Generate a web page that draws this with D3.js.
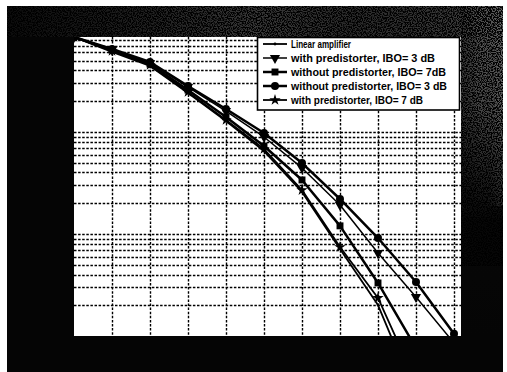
<!DOCTYPE html>
<html><head><meta charset="utf-8">
<script src="https://cdn.jsdelivr.net/npm/d3@7"></script>
<style>html,body{margin:0;padding:0;background:#fff;overflow:hidden}</style>
</head><body><svg id="c" width="507" height="372"></svg>
<script>
// ---------- data ----------
const xValues = [0, 1, 2, 3, 4, 5, 6, 7, 8, 9, 10];
const xTicks = [0, 1, 2, 3, 4, 5, 6, 7, 8, 9, 10];
const yDomain = [1e-4, 0.085];
const seriesNames = [
  "Linear amplifier",
  "with predistorter, IBO= 3 dB",
  "without predistorter, IBO= 7dB",
  "without predistorter, IBO= 3 dB",
  "with predistorter, IBO= 7 dB"
];
const linearAmp   = [0.085, 0.0606, 0.0442, 0.0240, 0.01278, 0.00649, 0.00258, 0.000712, 0.000201, 0.0000258];
const withPre3    = [0.085, 0.0634, 0.0473, 0.0275, 0.0160, 0.00891, 0.00443, 0.00192, 0.00065, 0.000241, 0.0000854];
const withoutPre7 = [0.085, 0.0634, 0.0462, 0.0257, 0.0140, 0.00727, 0.00338, 0.00120, 0.000331, 0.0000763];
const withoutPre3 = [0.085, 0.0649, 0.0483, 0.0281, 0.01675, 0.00975, 0.00495, 0.00220, 0.000912, 0.000338, 0.000105];
const withPre7    = [0.085, 0.0620, 0.0452, 0.0246, 0.01306, 0.00679, 0.00269, 0.000745, 0.000236, 0.0000354];

// ---------- styles ----------
const seriesStyle = [
  {values: linearAmp,   symbol: d3.symbolCircle,   size: 6,  rot: 0,   width: 1.8},
  {values: withPre3,    symbol: d3.symbolTriangle, size: 45, rot: 180, width: 1.5},
  {values: withoutPre7, symbol: d3.symbolSquare,   size: 48, rot: 0,   width: 2.5},
  {values: withoutPre3, symbol: d3.symbolCircle,   size: 50, rot: 0,   width: 2.5},
  {values: withPre7,    symbol: d3.symbolStar,     size: 40, rot: 0,   width: 1.8}
];
const legendTextWidths = [60, 144, 155, 156, 132];

const plot = {left: 74, right: 461, top: 37, bottom: 336, xEnd: 454};

const svg = d3.select("#c");
const defs = svg.append("defs");

// background gradients / noise
const tg = defs.append("linearGradient").attr("id", "topG").attr("x1", 0).attr("x2", 1).attr("y1", 0).attr("y2", 0);
[["0", "#0c0c0c"], ["0.3", "#222"], ["0.5", "#383838"], ["0.7", "#2a2a2a"], ["0.9", "#383838"], ["1", "#555"]]
  .forEach(([o, c]) => tg.append("stop").attr("offset", o).attr("stop-color", c));
const rg = defs.append("linearGradient").attr("id", "rightG").attr("x1", 0).attr("x2", 0).attr("y1", 0).attr("y2", 1);
[["0", "#555"], ["0.3", "#4a4a4a"], ["0.5", "#222"], ["0.65", "#070707"], ["1", "#050505"]]
  .forEach(([o, c]) => rg.append("stop").attr("offset", o).attr("stop-color", c));
const rg2 = defs.append("linearGradient").attr("id", "rightG2").attr("x1", 0).attr("x2", 1).attr("y1", 0).attr("y2", 0);
[["0", "#000", 0.4], ["0.5", "#000", 0.0], ["1", "#fff", 0.12]]
  .forEach(([o, c, a]) => rg2.append("stop").attr("offset", o).attr("stop-color", c).attr("stop-opacity", a));

const nf = defs.append("filter").attr("id", "nz").attr("x", 0).attr("y", 0).attr("width", "100%").attr("height", "100%")
  .attr("color-interpolation-filters", "sRGB");
nf.append("feTurbulence").attr("type", "fractalNoise").attr("baseFrequency", 0.8).attr("numOctaves", 1).attr("seed", 7);
nf.append("feColorMatrix").attr("type", "matrix")
  .attr("values", "0 0 0 0 0  0 0 0 0 0  0 0 0 0 0  7 0 0 0 -3.0");

defs.append("clipPath").attr("id", "plotClip").append("rect")
  .attr("x", plot.left).attr("y", plot.top)
  .attr("width", plot.right - plot.left).attr("height", plot.bottom - plot.top);

svg.append("rect").attr("x", 7).attr("y", 6).attr("width", 496).attr("height", 366).attr("fill", "#050505");
svg.append("rect").attr("x", 7).attr("y", 6).attr("width", 496).attr("height", 31).attr("fill", "url(#topG)");
svg.append("rect").attr("x", 461).attr("y", 6).attr("width", 42).attr("height", 330).attr("fill", "url(#rightG)");
svg.append("rect").attr("x", 461).attr("y", 6).attr("width", 42).attr("height", 200).attr("fill", "url(#rightG2)");
svg.append("rect").attr("x", 7).attr("y", 6).attr("width", 496).attr("height", 31).attr("filter", "url(#nz)");
svg.append("rect").attr("x", 461).attr("y", 6).attr("width", 42).attr("height", 260).attr("filter", "url(#nz)");

// plot area
svg.append("rect").attr("x", plot.left).attr("y", plot.top)
  .attr("width", plot.right - plot.left).attr("height", plot.bottom - plot.top).attr("fill", "#fff");

const x = d3.scaleLinear().domain([xTicks[0], xTicks[xTicks.length - 1]]).range([plot.left, plot.xEnd]);
const y = d3.scaleLog().domain(yDomain).range([plot.bottom, plot.top]);

// grid
const yGrid = [];
for (let e = -4; e <= -2; e++) for (let m = 1; m <= 9; m++) {
  const v = m * Math.pow(10, e);
  if (v > yDomain[0] * 1.0001 && v < yDomain[1]) yGrid.push(v);
}
const grid = svg.append("g").attr("stroke", "#000").attr("stroke-width", 1.4).attr("stroke-dasharray", "2.5,1.6");
grid.selectAll("line.h").data(yGrid).join("line")
  .attr("x1", plot.left).attr("x2", plot.right)
  .attr("y1", d => Math.round(y(d)) + 0.5).attr("y2", d => Math.round(y(d)) + 0.5);
grid.selectAll("line.v").data(xTicks.slice(1)).join("line")
  .attr("x1", d => Math.round(x(d)) + 0.5).attr("x2", d => Math.round(x(d)) + 0.5)
  .attr("y1", plot.top).attr("y2", plot.bottom);

// curves
const line = d3.line().x((d, i) => x(xValues[i])).y(d => y(d));
const gC = svg.append("g").attr("clip-path", "url(#plotClip)");
seriesStyle.forEach(s => {
  gC.append("path").attr("d", line(s.values)).attr("fill", "none")
    .attr("stroke", "#000").attr("stroke-width", s.width).attr("stroke-linejoin", "round");
});
seriesStyle.forEach(s => {
  const sym = d3.symbol().type(s.symbol).size(s.size);
  gC.selectAll(null).data(s.values.map((v, i) => [xValues[i], v])).join("path")
    .attr("d", sym)
    .attr("transform", d => `translate(${x(d[0])},${y(d[1])}) rotate(${s.rot})`)
    .attr("fill", "#000");
});

// legend
const lg = svg.append("g");
lg.append("rect").attr("x", 257.5).attr("y", 37.5).attr("width", 202).attr("height", 72.5)
  .attr("fill", "#fff").attr("stroke", "#000").attr("stroke-width", 1.6);
seriesNames.forEach((name, i) => {
  const s = seriesStyle[i];
  const yy = 44 + i * 14;
  lg.append("line").attr("x1", 263).attr("x2", 287).attr("y1", yy).attr("y2", yy)
    .attr("stroke", "#000").attr("stroke-width", s.width);
  lg.append("path").attr("d", d3.symbol().type(s.symbol).size(s.size)())
    .attr("transform", `translate(275,${yy}) rotate(${s.rot})`).attr("fill", "#000");
  lg.append("text").attr("x", 291).attr("y", yy + 3.5)
    .attr("font-family", "Liberation Sans, Arial, sans-serif").attr("font-weight", "bold")
    .attr("font-size", 10).attr("fill", "#000")
    .attr("textLength", legendTextWidths[i]).attr("lengthAdjust", "spacingAndGlyphs")
    .text(name);
});
</script></body></html>
